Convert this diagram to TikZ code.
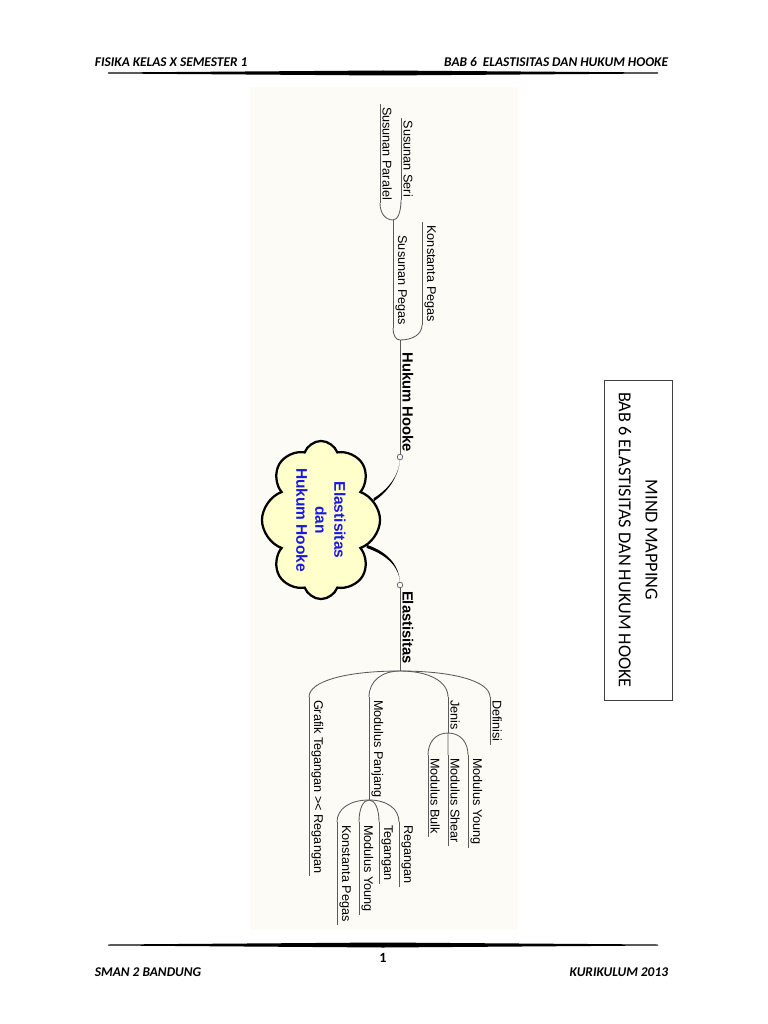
\documentclass[tikz,border=0pt]{standalone}
\usepackage{fontspec}
\setsansfont{Liberation Sans}
\newfontfamily\calibfont{Carlito}
\usepackage{xcolor}
\definecolor{panelbg}{RGB}{253,251,246}
\definecolor{cloudfill}{RGB}{255,255,204}
\definecolor{cloudblue}{RGB}{25,25,225}
\definecolor{branchgray}{RGB}{90,90,90}
\usepackage{tikz}
\usetikzlibrary{shapes.symbols,calc}

% curved link from a fork to the start of a child's underline
\newcommand{\branch}[2]{\draw[conn] (#1) .. controls ($(#1)!0.6!(#1 -| #2)$) and ($(#2)!0.6!(#2 |- #1)$) .. (#2);}

\begin{document}
\begin{tikzpicture}[x=0.025cm, y=-0.025cm,
    topic/.style={rotate=-90, font=\sffamily\fontsize{9}{11}\selectfont,
                  inner xsep=2pt, inner ysep=1.5pt},
    mainbranch/.style={topic, font=\sffamily\bfseries\fontsize{10.5}{12}\selectfont},
    uline/.style={draw=branchgray, line width=0.6pt},
    conn/.style={draw=branchgray, line width=0.6pt},
    knob/.style={circle, draw=branchgray, fill=white, inner sep=0pt,
                 minimum size=4pt, line width=0.5pt},
    pagetxt/.style={font=\calibfont\bfseries\itshape\fontsize{9.5}{11}\selectfont},
  ]
    \fill[white] (0,0) rectangle (768,1024);
    \useasboundingbox (0,0) rectangle (768,1024);

    % page header and footer
    \node[pagetxt, anchor=west] (headl) at (90,62) {FISIKA KELAS X SEMESTER 1};
    \node[pagetxt, anchor=east] (headr) at (673,62) {BAB 6\ \ ELASTISITAS DAN HUKUM HOOKE};
    \fill (108,72.5) -- (383,70.5) -- (658,72.5) -- (658,73.5) -- (383,75.5) -- (108,73.5) -- cycle;
    \fill (108,944.5) -- (383,942.5) -- (658,944.5) -- (658,945.5) -- (383,947.5) -- (108,945.5) -- cycle;
    \node[font=\calibfont\bfseries\fontsize{10}{12}\selectfont] (pagenum) at (383,958) {1};
    \node[pagetxt, anchor=west] (footl) at (90,972) {SMAN 2 BANDUNG};
    \node[pagetxt, anchor=east] (footr) at (673,972) {KURIKULUM 2013};

    % title box
    \node[draw=black!75, line width=0.6pt, rotate=-90, minimum width=8cm, minimum height=1.7cm,
          align=center, font=\calibfont\fontsize{13}{19}\selectfont]
          (title) at (638,540) {MIND MAPPING\\BAB 6 ELASTISITAS DAN HUKUM HOOKE};

    % mind map panel
    \fill[panelbg] (250,87) rectangle (518,930);

    \node[cloud, cloud puffs=8, cloud puff arc=140, cloud ignores aspect, rotate=-90,
          draw=black, line width=1.6pt, fill=cloudfill, inner sep=0pt,
          minimum width=3.95cm, minimum height=2.95cm, align=center,
          font=\sffamily\bfseries\fontsize{11}{13.5}\selectfont, text=cloudblue]
          (core) at (321,520) {Elastisitas\\dan\\Hukum Hooke};

    \node[knob] (knobh) at (400,457) {};
    \node[knob] (knobe) at (400,585) {};
    \fill ($(core.111)+(0,-1.6)$) .. controls (392,487) and (399,472) .. (knobh.south)
          .. controls (399,473) and (391,490) .. ($(core.111)+(0,1.6)$) -- cycle;
    \fill ($(core.60)+(0,-1.6)$) .. controls (391,553) and (399,568) .. (knobe.north)
          .. controls (399,569) and (390,556) .. ($(core.60)+(0,1.6)$) -- cycle;

    % Hukum Hooke side
    \node[mainbranch, anchor=south east] (hooke) at (400,455) {Hukum Hooke};
    \coordinate (hfork) at (400,340);
    \draw[uline] (knobh.north) -- (hfork);

    \node[topic, anchor=south east] (kpegas) at (422,325) {Konstanta Pegas};
    \node[topic, anchor=south east] (spegas) at (393,328) {Susunan Pegas};
    \coordinate (sfork) at (393,220);
    \node[topic, anchor=south east] (sparalel) at (380,203) {Susunan Paralel};
    \node[topic, anchor=south east] (sseri) at (401,200) {Susunan Seri};

    \draw[uline] (kpegas.south east) -- (kpegas.south west);
    \draw[uline] (spegas.south east) -- (sfork);
    \draw[uline] (sparalel.south east) -- (sparalel.south west);
    \draw[uline] (sseri.south east) -- (sseri.south west);
    \branch{hfork}{kpegas.south east}
    \branch{hfork}{spegas.south east}
    \branch{sfork}{sparalel.south east}
    \branch{sfork}{sseri.south east}

    % Elastisitas side
    \node[mainbranch, anchor=south west] (elas) at (400,588) {Elastisitas};
    \coordinate (efork) at (400,671);
    \draw[uline] (knobe.south) -- (efork);

    \node[topic, anchor=south west] (defin) at (490,697) {Definisi};
    \node[topic, anchor=south west] (jenis) at (448,697) {Jenis};
    \node[topic, anchor=south west] (mpanjang) at (369,697) {Modulus Panjang};
    \node[topic, anchor=south west] (grafik) at (309,697) {Grafik Tegangan >< Regangan};
    \coordinate (jfork) at (448,733);
    \coordinate (mfork) at (369,800);

    \node[topic, anchor=south west] (myoung) at (468,755) {Modulus Young};
    \node[topic, anchor=south west] (mshear) at (448,755) {Modulus Shear};
    \node[topic, anchor=south west] (mbulk) at (428,755) {Modulus Bulk};

    \node[topic, anchor=south west] (regangan) at (399,822) {Regangan};
    \node[topic, anchor=south west] (tegangan) at (379,822) {Tegangan};
    \node[topic, anchor=south west] (myoung2) at (359,822) {Modulus Young};
    \node[topic, anchor=south west] (kpegas2) at (337,822) {Konstanta Pegas};

    \draw[uline] (defin.south west) -- (defin.south east);
    \draw[uline] (jenis.south west) -- (jfork);
    \draw[uline] (mpanjang.south west) -- (mfork);
    \draw[uline] (grafik.south west) -- (grafik.south east);
    \draw[uline] (myoung.south west) -- (myoung.south east);
    \draw[uline] (mshear.south west) -- (mshear.south east);
    \draw[uline] (mbulk.south west) -- (mbulk.south east);
    \draw[uline] (regangan.south west) -- (regangan.south east);
    \draw[uline] (tegangan.south west) -- (tegangan.south east);
    \draw[uline] (myoung2.south west) -- (myoung2.south east);
    \draw[uline] (kpegas2.south west) -- (kpegas2.south east);

    \branch{efork}{defin.south west}
    \branch{efork}{jenis.south west}
    \branch{efork}{mpanjang.south west}
    \branch{efork}{grafik.south west}
    \branch{jfork}{myoung.south west}
    \branch{jfork}{mshear.south west}
    \branch{jfork}{mbulk.south west}
    \branch{mfork}{regangan.south west}
    \branch{mfork}{tegangan.south west}
    \branch{mfork}{myoung2.south west}
    \branch{mfork}{kpegas2.south west}
  \end{tikzpicture}
\end{document}
